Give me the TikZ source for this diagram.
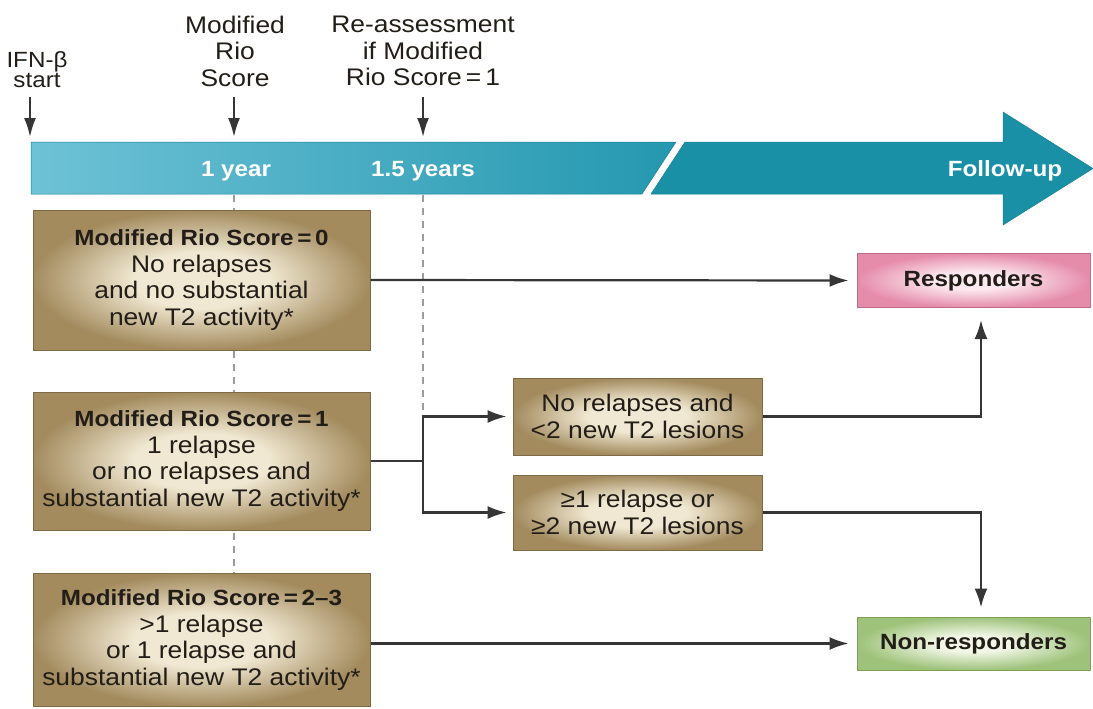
\documentclass[tikz,border=0pt]{standalone}
\usepackage{fontspec}
\setmainfont[FakeStretch=1.1]{Liberation Sans}
\usetikzlibrary{arrows.meta}
\definecolor{tanout}{HTML}{A38B5E}
\definecolor{tanin}{HTML}{F0E8D2}
\definecolor{tanline}{HTML}{7E6A46}
\definecolor{pinkout}{HTML}{E58CAB}
\definecolor{pinkin}{HTML}{FCE9F0}
\definecolor{pinkline}{HTML}{C06A88}
\definecolor{greenout}{HTML}{9EC27A}
\definecolor{greenin}{HTML}{F1F6E6}
\definecolor{greenline}{HTML}{7EA05C}
\definecolor{barL}{HTML}{6EC2D6}
\definecolor{barM}{HTML}{2498B0}
\definecolor{barR}{HTML}{1990A6}
\definecolor{barline}{HTML}{1A7F94}
\definecolor{linec}{HTML}{363636}
\definecolor{dashc}{HTML}{9C9C9C}
\definecolor{txt}{HTML}{221E17}
\pgfdeclareradialshading{tanglow}{\pgfpoint{0bp}{0bp}}{color(0bp)=(tanin); color(10bp)=(tanin); color(25bp)=(tanout); color(50bp)=(tanout)}
\pgfdeclareradialshading{pinkglow}{\pgfpoint{0bp}{0bp}}{color(0bp)=(pinkin); color(8bp)=(pinkin); color(25bp)=(pinkout); color(50bp)=(pinkout)}
\pgfdeclareradialshading{greenglow}{\pgfpoint{0bp}{0bp}}{color(0bp)=(greenin); color(8bp)=(greenin); color(25bp)=(greenout); color(50bp)=(greenout)}
\newcommand\mynorm{\fontsize{24}{26.5}\selectfont}
\newcommand\mybold{\fontsize{22}{26.5}\selectfont\bfseries}
\begin{document}
\begin{tikzpicture}[x=1pt,y=-1pt,
  tanbox/.style={draw=tanline, line width=1pt, shading=tanglow, inner sep=0pt, align=center, font=\mynorm, text=txt},
  pinkbox/.style={draw=pinkline, line width=1pt, shading=pinkglow, inner sep=0pt, align=center, font=\mybold, text=txt},
  greenbox/.style={draw=greenline, line width=1pt, shading=greenglow, inner sep=0pt, align=center, font=\mybold, text=txt},
  toplbl/.style={align=center, font=\mynorm, text=txt, inner sep=0pt},
  barlbl/.style={font=\mybold, text=white, inner sep=0pt},
  conn/.style={draw=linec, line width=2.2pt},
  arr/.style={conn, -{Latex[length=19pt,width=13pt]}},
  toparr/.style={conn, line width=2pt, -{Latex[length=19pt,width=12pt]}},
  dashln/.style={draw=dashc, line width=1.6pt, dash pattern=on 7pt off 6pt}
]
\useasboundingbox (0,0) rectangle (1093,709);

% timeline bar
\shade[left color=barL, right color=barM, draw=barline, line width=0.5pt]
  (31,142) -- (676,142) -- (642,194) -- (31,194) -- cycle;
\fill[barR, draw=barline, line width=0.5pt]
  (685,142) -- (1003,142) -- (1003,112) -- (1093,168.5) -- (1003,225) -- (1003,194) -- (651,194) -- cycle;

\node[barlbl] (y1) at (236,171) {1 year};
\node[barlbl] (y15) at (423,171) {1.5 years};
\node[barlbl] (fu) at (1005,171) {Follow-up};

% top labels and arrows
\node[toplbl, font=\fontsize{22}{20}\selectfont] (ifn) at (37,70) {IFN-β\\start};
\node[toplbl] (mrs) at (235,51) {Modified\\Rio\\Score};
\node[toplbl] (rea) at (423,51) {Re-assessment\\if Modified\\Rio Score\,=\,1};
\coordinate (a0s) at (30,97);  \coordinate (a0e) at (30,137);
\coordinate (a1s) at (234,97); \coordinate (a1e) at (234,137);
\coordinate (a2s) at (423,97); \coordinate (a2e) at (423,137);
\draw[toparr] (a0s) -- (a0e);
\draw[toparr] (a1s) -- (a1e);
\draw[toparr] (a2s) -- (a2e);

% dashed guides
\coordinate (d1s) at (234,195); \coordinate (d1e) at (234,574);
\coordinate (d2s) at (423,195); \coordinate (br) at (423,461);
\draw[dashln] (d1s) -- (d1e);
\draw[dashln] (d2s) -- (423,418);

% boxes
\node[tanbox, minimum width=337pt, minimum height=140pt] (b0) at (201.5,280)
  {{\mybold Modified Rio Score\,=\,0}\\No relapses\\and no substantial\\new T2 activity*};
\node[tanbox, minimum width=337pt, minimum height=138pt] (b1) at (201.5,461)
  {{\mybold Modified Rio Score\,=\,1}\\1 relapse\\or no relapses and\\substantial new T2 activity*};
\node[tanbox, minimum width=337pt, minimum height=133pt] (b2) at (201.5,640)
  {{\mybold Modified Rio Score\,=\,2–3}\\>1 relapse\\or 1 relapse and\\substantial new T2 activity*};
\node[tanbox, minimum width=249pt, minimum height=77pt] (nr) at (637.5,416.5)
  {No relapses and\\<2 new T2 lesions};
\node[tanbox, minimum width=249pt, minimum height=75pt] (ge) at (637.5,512.5)
  {≥1 relapse or\\≥2 new T2 lesions};
\node[pinkbox, minimum width=233pt, minimum height=54pt] (resp) at (973.5,280.5) {Responders};
\node[greenbox, minimum width=233pt, minimum height=53pt] (nonr) at (973.5,643.5) {Non-responders};

% connectors
\draw[arr, shorten >=8pt] (b0.east) -- (resp.west);
\draw[arr, shorten >=8pt] (b2.east |- nonr.west) -- (nonr.west);
\draw[conn] (b1.east) -- (br);
\draw[arr, shorten >=6pt] (br) |- (nr.west);
\draw[arr, shorten >=6pt] (br) |- (ge.west);
\draw[arr, shorten >=12pt] (nr.east) -| ([xshift=7.5pt]resp.south);
\draw[arr, shorten >=9pt] (ge.east) -| ([xshift=7.5pt]nonr.north);
\end{tikzpicture}
\end{document}
